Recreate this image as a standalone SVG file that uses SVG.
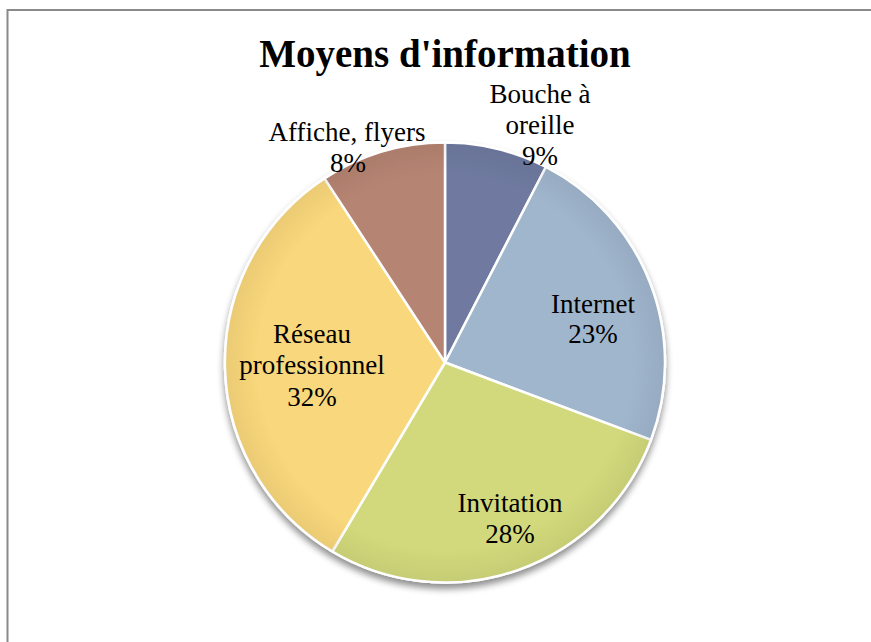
<svg xmlns="http://www.w3.org/2000/svg" width="871" height="642" viewBox="0 0 871 642">
  <style>
    .title { font-family: "Liberation Serif", "DejaVu Serif", serif; font-weight: bold; font-size: 39px; fill: #000; text-anchor: middle; }
    .lbl { font-family: "Liberation Serif", "DejaVu Serif", serif; font-size: 27px; fill: #000; text-anchor: middle; }
    .slice { stroke: #ffffff; stroke-width: 2.5; stroke-linejoin: round; }
  </style>
  <defs>
    <filter id="shadow" x="-20%" y="-20%" width="140%" height="140%">
      <feGaussianBlur in="SourceAlpha" stdDeviation="3.5"/>
      <feOffset dx="0" dy="5" result="b"/>
      <feComponentTransfer><feFuncA type="linear" slope="0.45"/></feComponentTransfer>
      <feMerge><feMergeNode/><feMergeNode in="SourceGraphic"/></feMerge>
    </filter>
    <radialGradient id="rim" cx="445" cy="362.5" r="220" gradientUnits="userSpaceOnUse">
      <stop offset="0.85" stop-color="#000" stop-opacity="0"/>
      <stop offset="1" stop-color="#000" stop-opacity="0.06"/>
    </radialGradient>
  </defs>
  <rect x="0" y="0" width="871" height="642" fill="#ffffff"/>
  <path d="M7.5 642 V10 H871" fill="none" stroke="#8a8a8a" stroke-width="2"/>
  <text class="title" x="445" y="67">Moyens d'information</text>

  <g id="pie" filter="url(#shadow)">
    <circle cx="445" cy="362.5" r="221" fill="#ffffff"/>
    <g id="slice-bouche"><path class="slice" fill="#6F7AA0" d="M445 362.5 L445 142.5 A220 220 0 0 1 545.9 167.0 Z"/></g>
    <g id="slice-internet"><path class="slice" fill="#A0B6CD" d="M445 362.5 L545.9 167.0 A220 220 0 0 1 650.9 439.9 Z"/></g>
    <g id="slice-invitation"><path class="slice" fill="#D2D97B" d="M445 362.5 L650.9 439.9 A220 220 0 0 1 332.4 551.5 Z"/></g>
    <g id="slice-reseau"><path class="slice" fill="#F9D77B" d="M445 362.5 L332.4 551.5 A220 220 0 0 1 324.5 178.4 Z"/></g>
    <g id="slice-affiche"><path class="slice" fill="#B68472" d="M445 362.5 L324.5 178.4 A220 220 0 0 1 445 142.5 Z"/></g>
    <circle cx="445" cy="362.5" r="219" fill="url(#rim)"/>
  </g>

  <g id="labels">
    <g id="label-bouche">
      <text class="lbl" x="540" y="103">Bouche à</text>
      <text class="lbl" x="540" y="134">oreille</text>
      <text class="lbl" x="540" y="165">9%</text>
    </g>
    <g id="label-affiche">
      <text class="lbl" x="347" y="141">Affiche, flyers</text>
      <text class="lbl" x="348" y="172">8%</text>
    </g>
    <g id="label-internet">
      <text class="lbl" x="593" y="313">Internet</text>
      <text class="lbl" x="593" y="343">23%</text>
    </g>
    <g id="label-reseau">
      <text class="lbl" x="312" y="343">Réseau</text>
      <text class="lbl" x="312" y="374">professionnel</text>
      <text class="lbl" x="312" y="406">32%</text>
    </g>
    <g id="label-invitation">
      <text class="lbl" x="510" y="512">Invitation</text>
      <text class="lbl" x="510" y="543">28%</text>
    </g>
  </g>
  <g id="connectors"/>
</svg>
